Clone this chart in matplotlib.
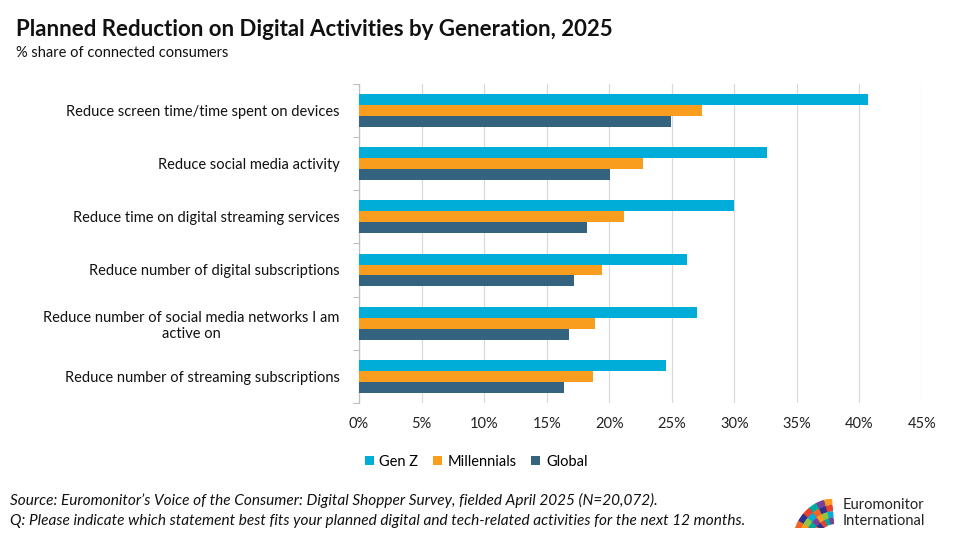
import numpy as np
import matplotlib.pyplot as plt
from matplotlib.patches import Wedge

plt.rcParams['font.family'] = ['Lato', 'DejaVu Sans']

categories = [
    'Reduce screen time/time spent on devices',
    'Reduce social media activity',
    'Reduce time on digital streaming services',
    'Reduce number of digital subscriptions',
    'Reduce number of social media networks I am\nactive on',
    'Reduce number of streaming subscriptions',
]
gen_z = [40.7, 32.6, 30.0, 26.2, 27.0, 24.5]
millennials = [27.4, 22.7, 21.2, 19.4, 18.9, 18.7]
global_ = [24.9, 20.1, 18.2, 17.2, 16.8, 16.4]
series_names = ['Gen Z', 'Millennials', 'Global']
colors = ['#00ADD8', '#F99D1F', '#33637E']

fig = plt.figure(figsize=(9.6, 5.4), dpi=100)
ax = fig.add_axes([0.374, 0.254, 0.5864, 0.5904])

y = np.arange(len(categories))
h = 0.207
for k, (vals, name, c) in enumerate(zip([gen_z, millennials, global_], series_names, colors)):
    ax.barh(y + (k - 1) * h, vals, height=h, color=c, label=name, zorder=3)

ax.set_ylim(len(categories) - 0.5, -0.5)
ax.set_xlim(0, 45)
ax.set_xticks(np.arange(0, 46, 5))
ax.set_xticklabels([f'{v}%' for v in range(0, 46, 5)], fontsize=10.5, color='#222222')
ax.set_yticks(y)
ax.set_yticklabels(categories, fontsize=10.5, color='#111111')
for lbl in ax.get_yticklabels():
    lbl.set_multialignment('center')
ax.set_yticks(np.arange(-0.5, len(categories)), minor=True)
ax.tick_params(axis='y', which='major', length=0, pad=14)
ax.tick_params(axis='y', which='minor', length=4, color='#BFBFBF', width=0.8)
ax.tick_params(axis='x', length=0, pad=10)
ax.grid(axis='x', color='#D9D9D9', linewidth=0.9, zorder=0)
for s in ['top', 'right', 'bottom']:
    ax.spines[s].set_visible(False)
ax.spines['left'].set_color('#BFBFBF')
ax.spines['left'].set_linewidth(0.9)

fig.text(0.017, 0.945, 'Planned Reduction on Digital Activities by Generation, 2025',
         fontsize=16, fontweight='bold', color='#111111', va='center')
fig.text(0.017, 0.902, '% share of connected consumers', fontsize=10.5, color='#111111', va='center')

handles, labels = ax.get_legend_handles_labels()
fig.legend(handles, labels, loc='center', bbox_to_anchor=(0.496, 0.145), ncol=3, frameon=False,
           fontsize=10.5, handlelength=0.6, handleheight=0.6, handletextpad=0.4, columnspacing=1.0)

fig.text(0.01, 0.073, 'Source: Euromonitor\u2019s Voice of the Consumer: Digital Shopper Survey, fielded April 2025 (N=20,072).',
         fontsize=11.1, style='italic', color='#111111', va='center')
fig.text(0.01, 0.035, 'Q: Please indicate which statement best fits your planned digital and tech-related activities for the next 12 months.',
         fontsize=11.1, style='italic', color='#111111', va='center')

# logo: segmented arcs
lax = fig.add_axes([0.826, 0.022, 0.051, 0.054])
lax.set_xlim(0, 1.8)
lax.set_ylim(0, 1)
lax.axis('off')
logo_cols = ['#F99D1F', '#E8412C', '#00ADD8', '#7B3F98', '#2E3192', '#8DC63F', '#00A99D', '#F26522']
for ring in range(4):
    r = 1.55 - ring * 0.22
    for seg in range(6):
        c = logo_cols[(seg * 3 + ring) % len(logo_cols)]
        lax.add_patch(Wedge((1.55, -0.55), r, 95 + seg * 11, 106 + seg * 11, width=0.18, color=c))
fig.text(0.878, 0.064, 'Euromonitor', fontsize=10.5, color='#222222', va='center')
fig.text(0.878, 0.036, 'International', fontsize=10.5, color='#222222', va='center')

fig.savefig('out.png', dpi=100)
